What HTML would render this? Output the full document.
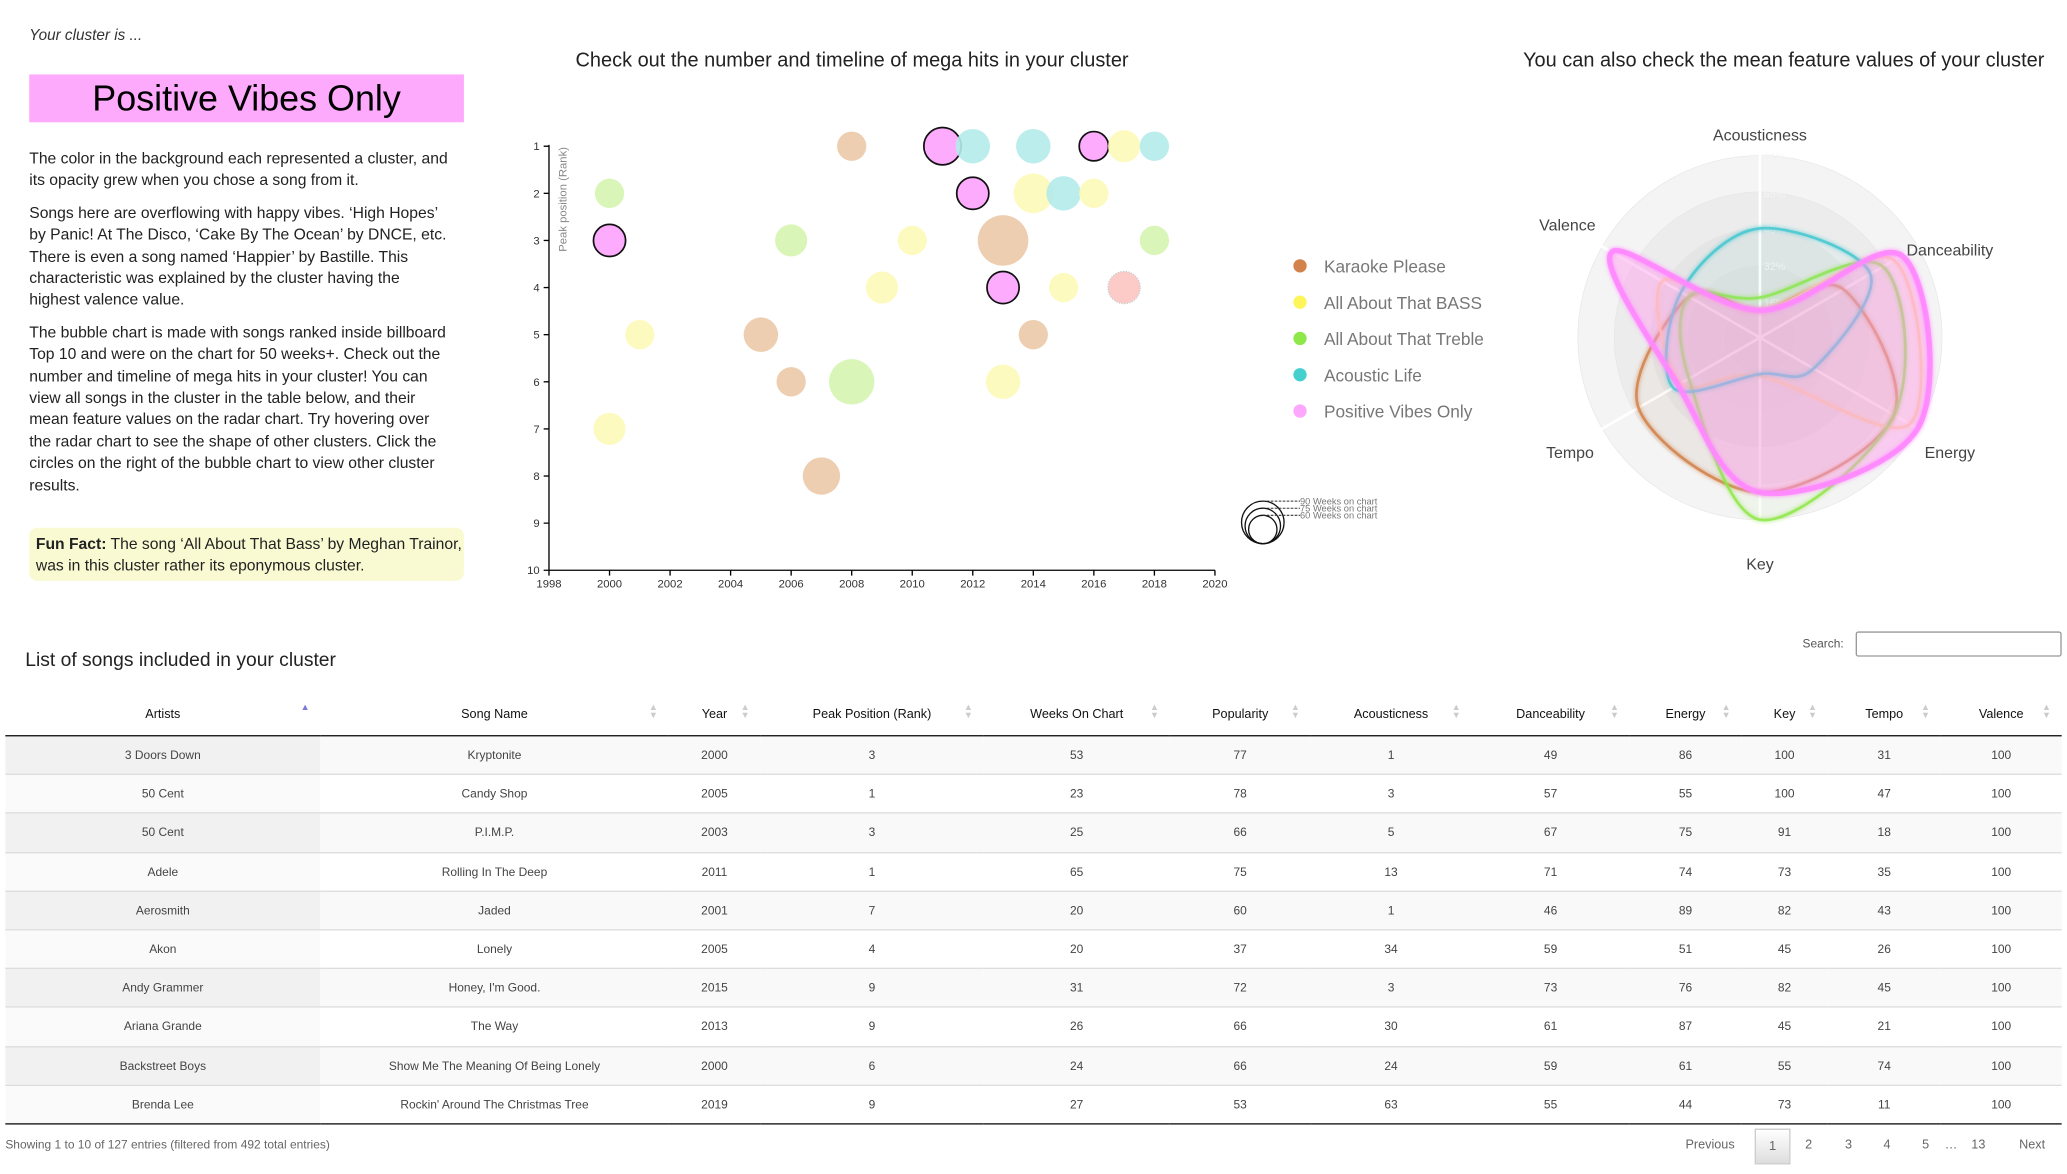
<!DOCTYPE html>
<html><head><meta charset="utf-8">
<style>
html,body{margin:0;padding:0;background:#fff;width:2067px;height:1174px;overflow:hidden}
#wrap{position:absolute;left:0;top:0;width:1555px;height:883px;transform:scale(1.32926);transform-origin:0 0;font-family:"Liberation Sans",sans-serif;color:#333}
.abs{position:absolute}
p{margin:0}
table{border-collapse:collapse;table-layout:fixed;position:absolute;left:4px;top:521px;width:1547px;font-size:9px;color:#444}
th{font-weight:normal;color:#111;font-size:9.5px;height:30px;border-bottom:1.5px solid #111;position:relative}
th .s{position:absolute;right:8px;top:9px;font-size:7px;line-height:6px;color:#ccc}
td{text-align:center;height:28.2px;border-top:1px solid #ddd;padding:0}
tr.o td{background:#f9f9f9}tr.o td:first-child{background:#f1f1f1}
tr.e td{background:#fff}tr.e td:first-child{background:#fafafa}
tbody tr:last-child td{border-bottom:1.5px solid #111}
.pg{position:absolute;top:856px;font-size:9.5px;color:#666}
</style></head><body>
<div id="wrap">
<div class="abs" style="left:22px;top:21px;font-size:11.5px;font-style:italic">Your cluster is ...</div>
<div class="abs" style="left:22px;top:56px;width:327px;height:36px;background:#fdaafd;text-align:center;font-size:27px;line-height:37px;color:#000">Positive Vibes Only</div>
<div class="abs" style="left:22px;top:111px;width:318px;font-size:11.8px;line-height:16.4px;color:#222">
<p>The color in the background each represented a cluster, and its opacity grew when you chose a song from it.</p>
<p style="margin-top:8px">Songs here are overflowing with happy vibes. ‘High Hopes’ by Panic! At The Disco, ‘Cake By The Ocean’ by DNCE, etc. There is even a song named ‘Happier’ by Bastille. This characteristic was explained by the cluster having the highest valence value.</p>
<p style="margin-top:8px">The bubble chart is made with songs ranked inside billboard Top 10 and were on the chart for 50 weeks+. Check out the number and timeline of mega hits in your cluster! You can view all songs in the cluster in the table below, and their mean feature values on the radar chart. Try hovering over the radar chart to see the shape of other clusters. Click the circles on the right of the bubble chart to view other cluster results.</p>
</div>
<div class="abs" style="left:22px;top:397px;width:322px;height:32px;padding:4px 0 4px 5px;background:#fafad2;border-radius:6px;font-size:11.8px;line-height:16.4px;color:#222"><b>Fun Fact:</b> The song ‘All About That Bass’ by Meghan Trainor, was in this cluster rather its eponymous cluster.</div>
<div class="abs" style="left:340px;width:602px;top:37px;text-align:center;font-size:15px;color:#222">Check out the number and timeline of mega hits in your cluster</div>
<div class="abs" style="right:17px;top:37px;font-size:15px;color:#222">You can also check the mean feature values of your cluster</div>

<svg id="chart" class="abs" style="left:0;top:0" width="1555" height="470">
<defs><filter id="glow"><feGaussianBlur stdDeviation="1.6" result="b"/><feMerge><feMergeNode in="b"/><feMergeNode in="SourceGraphic"/></feMerge></filter></defs>
<g id="bubble"></g><g id="radar"></g><g id="legend"></g>
</svg>

<div class="abs" style="left:19px;top:489px;font-size:14.5px;color:#222">List of songs included in your cluster</div>
<div class="abs" style="left:1356px;top:479px;font-size:9px;color:#555">Search:</div>
<div class="abs" style="left:1396px;top:475px;width:153px;height:17px;border:1px solid #999;border-radius:2px"></div>
<table>
<colgroup><col style="width:237px"><col style="width:262px"><col style="width:69px"><col style="width:168px"><col style="width:140px"><col style="width:106px"><col style="width:121px"><col style="width:119px"><col style="width:84px"><col style="width:65px"><col style="width:85px"><col style="width:91px"></colgroup>
<thead><tr id="hdr"></tr></thead><tbody id="tb"></tbody></table>
<div class="pg" style="left:4px;font-size:9px">Showing 1 to 10 of 127 entries (filtered from 492 total entries)</div>
<div class="pg" style="left:1268px">Previous</div>
<div class="abs" style="left:1320px;top:849px;width:25px;height:25px;border:1px solid #ccc;background:linear-gradient(#fff,#ddd);text-align:center;line-height:25px;font-size:10px;color:#666">1</div>
<div class="pg" style="left:1358px">2</div>
<div class="pg" style="left:1388px">3</div>
<div class="pg" style="left:1417px">4</div>
<div class="pg" style="left:1446px">5</div>
<div class="pg" style="left:1463px">…</div>
<div class="pg" style="left:1483px">13</div>
<div class="pg" style="left:1519px">Next</div>
</div>
<script>
// ---------- bubble chart data ----------
const bYears=[2008,2011,2012,2014,2016,2017,2018,2000,2012,2014,2015,2016,2000,2006,2010,2013,2018,2009,2013,2015,2017,2001,2005,2014,2006,2008,2013,2000,2007];
const bRanks=[1,1,1,1,1,1,1,2,2,2,2,2,3,3,3,3,3,4,4,4,4,5,5,5,6,6,6,7,8];
const bWeeks=[62,79,73,73,62,68,62,62,68,84,73,62,68,68,62,107,62,68,68,62,68,62,73,62,62,96,73,68,79];
const bCluster=[0,4,3,3,4,1,3,2,4,1,3,1,4,2,1,0,2,1,4,1,5,1,0,0,0,2,1,1,0];
const xTicks=[1998,2000,2002,2004,2006,2008,2010,2012,2014,2016,2018,2020];
const yTicks=[1,2,3,4,5,6,7,8,9,10];
const sizeLegend=[90,75,60];
// ---------- radar data ----------
const axesNames=["Acousticness","Danceability","Energy","Key","Tempo","Valence"];
const levelLabels=["16%","32%","48%","65%","81%"];
const seriesNames=["Karaoke Please","All About That BASS","All About That Treble","Acoustic Life","Positive Vibes Only"];
const karaoke=[0.15,0.53,0.85,0.85,0.77,0.45];
const bass=[0.15,0.85,0.95,0.21,0.5,0.62];
const treble=[0.22,0.78,0.85,1.0,0.45,0.45];
const acoustic=[0.6,0.7,0.34,0.2,0.55,0.5];
const positive=[0.15,0.9,1.0,0.85,0.52,0.94];
// ---------- table data ----------
const headers=["Artists","Song Name","Year","Peak Position (Rank)","Weeks On Chart","Popularity","Acousticness","Danceability","Energy","Key","Tempo","Valence"];
const artists=["3 Doors Down","50 Cent","50 Cent","Adele","Aerosmith","Akon","Andy Grammer","Ariana Grande","Backstreet Boys","Brenda Lee"];
const songs=["Kryptonite","Candy Shop","P.I.M.P.","Rolling In The Deep","Jaded","Lonely","Honey, I'm Good.","The Way","Show Me The Meaning Of Being Lonely","Rockin' Around The Christmas Tree"];
const years=[2000,2005,2003,2011,2001,2005,2015,2013,2000,2019];
const peaks=[3,1,3,1,7,4,9,9,6,9];
const weeksOn=[53,23,25,65,20,20,31,26,24,27];
const popularity=[77,78,66,75,60,37,72,66,66,53];
const acous=[1,3,5,13,1,34,3,30,24,63];
const dance=[49,57,67,71,46,59,73,61,59,55];
const energy=[86,55,75,74,89,51,76,87,61,44];
const keys=[100,100,91,73,82,45,82,45,55,73];
const tempo=[31,47,18,35,43,26,45,21,74,11];
const valence=[100,100,100,100,100,100,100,100,100,100];

const NS="http://www.w3.org/2000/svg";
function mk(tag,attrs,parent){const e=document.createElementNS(NS,tag);for(const k in attrs)e.setAttribute(k,attrs[k]);parent.appendChild(e);return e;}
const fills=["#ecc9a8","#fdf9b9","#d5f5b0","#b3ebea","#fdabfd","#fcc5c2"];
const dots=["#d2824a","#fdf55a","#8fe84a","#45d0d0","#fda8fd"];

// bubble
const bg=document.getElementById('bubble');
const x0=413,x1=914,y0=110,y1=429;
const X=v=>x0+(v-1998)/(2020-1998)*(x1-x0);
const Y=v=>y0+(v-1)/(10-1)*(y1-y0);
const R=w=>16*w/90;
let ax=mk('line',{x1:x0,y1:y0-1,x2:x0,y2:y1,stroke:'#000','stroke-width':1},bg);

ax=mk('line',{x1:x0,y1:y1,x2:x1,y2:y1,stroke:'#000','stroke-width':1},bg);

yTicks.forEach(t=>{mk('line',{x1:x0-4,y1:Y(t),x2:x0,y2:Y(t),stroke:'#000'},bg);
 const tx=mk('text',{x:x0-7,y:Y(t)+3,'text-anchor':'end','font-size':8.5,fill:'#333'},bg);tx.textContent=t;
 });
xTicks.forEach(t=>{mk('line',{x1:X(t),y1:y1,x2:X(t),y2:y1+4,stroke:'#000'},bg);
 const tx=mk('text',{x:X(t),y:y1+13,'text-anchor':'middle','font-size':8.5,fill:'#333'},bg);tx.textContent=t;
 });
let yt=mk('text',{x:0,y:0,transform:`translate(426,150) rotate(-90)`,'text-anchor':'middle','font-size':8.5,fill:'#888'},bg);
yt.textContent='Peak position (Rank)';
bYears.forEach((yr,i)=>{const c=bCluster[i];
 const el=mk('circle',{cx:X(yr),cy:Y(bRanks[i]),r:R(bWeeks[i]),fill:fills[c],'fill-opacity':c==4?1:0.9},bg);
 if(c==4){el.setAttribute('stroke','#111');el.setAttribute('stroke-width','1.3');}
 if(c==5){el.setAttribute('stroke','#ccc');el.setAttribute('stroke-dasharray','1,1');}
 });
// size legend
const lx=950,lb=409;
sizeLegend.forEach((w,i)=>{const r=R(w);
 const c=mk('circle',{cx:lx,cy:lb-r,r:r,fill:'none',stroke:'#111','stroke-width':1},bg);
 
 mk('line',{x1:lx,y1:lb-2*r,x2:lx+28,y2:lb-2*r,stroke:'#333','stroke-dasharray':'2,1','stroke-width':0.8},bg);
 const t=mk('text',{x:lx+28,y:lb-2*r+2.5,'font-size':7,fill:'#777'},bg);t.textContent=w+' Weeks on chart';
 });

// radar
const rg=document.getElementById('radar');
const cx=1324,cy=254,RR=137;
[1,0.8,0.6,0.4,0.2].forEach((f,i)=>{const c=mk('circle',{cx:cx,cy:cy,r:RR*f,fill:'#cdcdcd','fill-opacity':0.22,stroke:'#e6e6e6','stroke-width':0.5},rg);
 });
const ang=i=>-Math.PI/2+i*Math.PI/3;
const lblDx=[0,10,10,0,-10,-12], lblDy=[5,15,14,21,14,-4];
axesNames.forEach((n,i)=>{const a=ang(i);
 const l=mk('line',{x1:cx,y1:cy,x2:cx+RR*1.05*Math.cos(a),y2:cy+RR*1.05*Math.sin(a),stroke:'#fff','stroke-width':2},rg);
 
 const t=mk('text',{x:cx+RR*1.12*Math.cos(a)+lblDx[i],y:cy+RR*1.12*Math.sin(a)+lblDy[i],'text-anchor':'middle','font-size':12,fill:'#444'},rg);
 t.textContent=n;});
levelLabels.forEach((l,i)=>{const t=mk('text',{x:cx+3,y:cy-RR*(i+1)/5+4,'font-size':8,fill:'#f4f4f4'},rg);t.textContent=l;
 });
function curve(vals){const p=vals.map((v,i)=>[cx+RR*v*Math.cos(ang(i)),cy+RR*v*Math.sin(ang(i))]);const n=p.length;
 let d=`M${p[0][0]},${p[0][1]}`;
 for(let i=0;i<n;i++){const p0=p[(i-1+n)%n],p1=p[i],p2=p[(i+1)%n],p3=p[(i+2)%n];const k=6;
  d+=` C${p1[0]+(p2[0]-p0[0])/k},${p1[1]+(p2[1]-p0[1])/k} ${p2[0]-(p3[0]-p1[0])/k},${p2[1]-(p3[1]-p1[1])/k} ${p2[0]},${p2[1]}`;}
 return d+'Z';}
const series=[karaoke,bass,treble,acoustic,positive];
const strokes=["#d2824a","#fdf55a","#8fe84a","#45d0d0","#ff88ff"];
const strokes2=["#d2824a","#fdd39a","#8fe84a","#45c8d0","#ff88ff"];
series.forEach((s,i)=>{const d=curve(s);
 const f=mk('path',{d:d,fill:i==4?'#ff99ee':strokes[i],'fill-opacity':i==4?0.45:0.05},rg);
 
 const p=mk('path',{d:d,fill:'none',stroke:strokes2[i],'stroke-width':i==4?4:2,'stroke-opacity':i==4?0.9:0.85,filter:'url(#glow)'},rg);
 });
// legend
const lg=document.getElementById('legend');
seriesNames.forEach((n,i)=>{const y=200+i*27.3;
 const c=mk('circle',{cx:978,cy:y,r:5,fill:dots[i]},lg);
 const t=mk('text',{x:996,y:y+5,'font-size':13,fill:'#777'},lg);t.textContent=n;});

// table
const hdr=document.getElementById('hdr');
headers.forEach((h,i)=>{const th=document.createElement('th');th.innerHTML=h+'<span class="s">'+(i==0?'<span style="color:#7a7ad8">▲</span>':'▲<br>▼')+'</span>';
 hdr.appendChild(th);});
const tb=document.getElementById('tb');
const cols=[artists,songs,years,peaks,weeksOn,popularity,acous,dance,energy,keys,tempo,valence];
artists.forEach((a,r)=>{const tr=document.createElement('tr');tr.className=r%2?'e':'o';
 
 cols.forEach(c=>{const td=document.createElement('td');td.textContent=c[r];
  tr.appendChild(td);});
 tb.appendChild(tr);});
</script>
</body></html>
